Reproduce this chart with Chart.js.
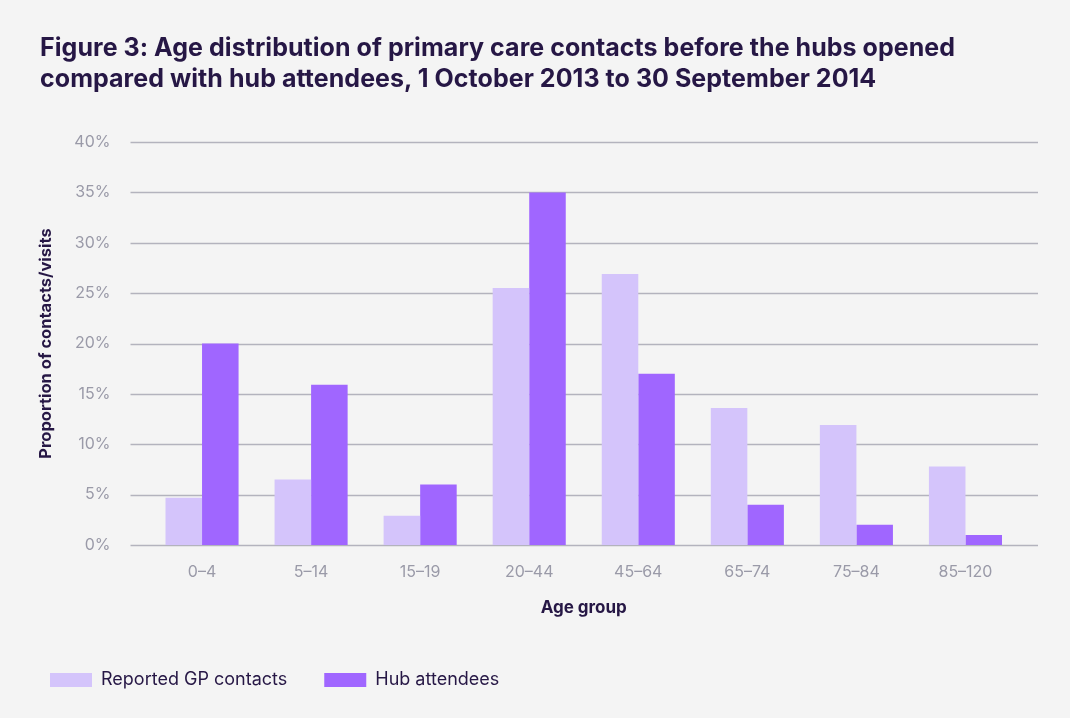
<!DOCTYPE html>
<html>
<head>
<meta charset="utf-8">
<script src="https://cdn.jsdelivr.net/npm/chart.js@4/dist/chart.umd.min.js"></script>
<style>
  body { margin: 0; background: #f4f4f4; }
  #wrap { position: relative; width: 1070px; height: 718px; }
  #title {
    position: absolute; left: 40px; top: 32px; margin: 0;
    font: 700 25px/31px Inter, sans-serif; color: #261745; letter-spacing: 0.05px;
  }
  #chart_zone { position: absolute; left: 0; top: 0; }
</style>
</head>
<body>
<div id="wrap">
  <canvas id="chart_zone" width="1070" height="718"></canvas>
  <h2 id="title">Figure 3: Age distribution of primary care contacts before the hubs opened<br>compared with hub attendees, 1 October 2013 to 30 September 2014</h2>
</div>
<script>
let ageGroups = ['0–4', '5–14', '15–19', '20–44', '45–64', '65–74', '75–84', '85–120'];
let gpContacts = [4.7, 6.5, 2.9, 25.5, 26.9, 13.6, 11.9, 7.8];
let hubAttendees = [20.0, 15.9, 6.0, 35.0, 17.0, 4.0, 2.0, 1.0];

let darkText = '#261745';
let greyText = '#9a9aa8';

// long grid lines that run past the bars on both sides
let gridLines = {
    id: 'gridLines',
    beforeDatasetsDraw(chart) {
        let ctx = chart.ctx;
        let y = chart.scales.y;
        let area = chart.chartArea;
        ctx.save();
        ctx.strokeStyle = '#b3b3bd';
        ctx.lineWidth = 1.5;
        y.ticks.forEach(t => {
            let py = Math.round(y.getPixelForValue(t.value)) + 0.5;
            ctx.beginPath();
            ctx.moveTo(area.left - 17, py);
            ctx.lineTo(area.right + 18, py);
            ctx.stroke();
        });
        ctx.restore();
    }
};

let graph = document.querySelector('#chart_zone').getContext('2d');

let myChart = new Chart(graph, {
    type: 'bar',
    plugins: [gridLines],
    data: {
        labels: ageGroups,
        datasets: [{
            label: 'Reported GP contacts',
            data: gpContacts,
            backgroundColor: '#d4c4fb',
            borderWidth: 0
        },
        {
            label: 'Hub attendees',
            data: hubAttendees,
            backgroundColor: '#a066ff',
            borderWidth: 0
        }]
    },
    options: {
        responsive: false,
        animation: false,
        layout: {
            padding: { top: 142, left: 13, right: 50, bottom: 19 }
        },
        datasets: {
            bar: { categoryPercentage: 0.67, barPercentage: 1.0 }
        },
        plugins: {
            tooltip: { enabled: false },
            legend: {
                position: 'bottom',
                align: 'start',
                labels: {
                    boxWidth: 42,
                    boxHeight: 14,
                    padding: 37,
                    color: darkText,
                    font: { family: 'Inter', size: 18 }
                }
            }
        },
        scales: {
            x: {
                grid: { display: false, drawTicks: false },
                border: { display: false },
                ticks: {
                    color: greyText,
                    padding: 18,
                    font: { family: 'Inter', size: 16 }
                },
                title: {
                    display: true,
                    text: 'Age group',
                    color: darkText,
                    padding: { top: 16, bottom: 16 },
                    font: { family: 'Inter', size: 17, weight: 'bold' }
                },
                afterFit(scale) {
                    scale.height = 89;
                }
            },
            y: {
                min: 0,
                max: 40,
                grid: { display: false, drawTicks: false },
                border: { display: false },
                ticks: {
                    stepSize: 5,
                    color: greyText,
                    padding: 37,
                    font: { family: 'Inter', size: 16 },
                    callback: v => v + '%'
                },
                title: {
                    display: true,
                    text: 'Proportion of contacts/visits',
                    color: darkText,
                    padding: { top: 23, bottom: 0 },
                    font: { family: 'Inter', size: 16.5, weight: 'bold' }
                },
                afterFit(scale) {
                    scale.width = 134.5;
                }
            }
        }
    }
});
</script>
</body>
</html>
